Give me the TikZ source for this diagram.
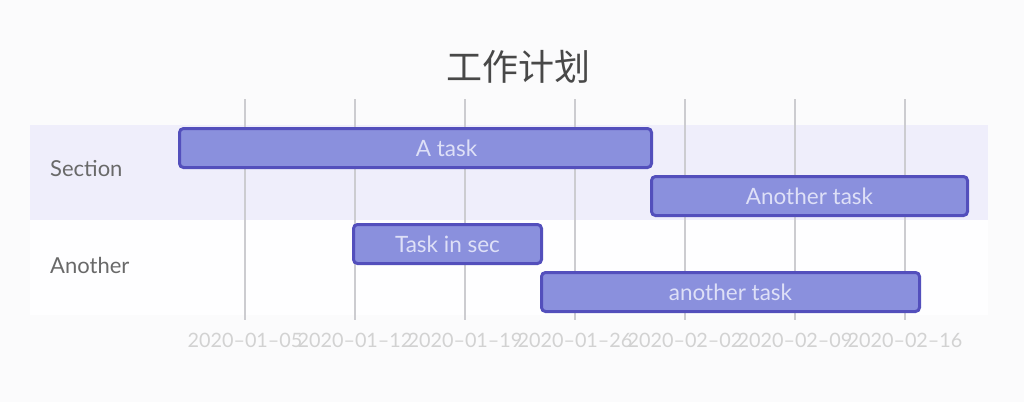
\documentclass[tikz,border=0pt]{standalone}
\usepackage{fontspec}
\setmainfont{Lato}
\newfontfamily\cjkfont{Noto Sans CJK SC}
\usepackage{tikz}
\usetikzlibrary{calc}
\definecolor{pagebg}{RGB}{251,251,252}
\definecolor{sectionbg}{RGB}{239,238,251}
\definecolor{altbg}{RGB}{254,254,255}
\definecolor{taskfill}{RGB}{138,144,221}
\definecolor{taskborder}{RGB}{83,79,188}
\definecolor{tasktext}{RGB}{222,224,247}
\definecolor{gridgray}{RGB}{204,204,208}
\definecolor{ticktext}{RGB}{210,210,210}
\definecolor{labeltext}{RGB}{105,105,105}
\definecolor{titletext}{RGB}{72,72,72}

\begin{document}
\begin{tikzpicture}[x=1pt,y=-1pt,
  task/.style={draw=taskborder,fill=taskfill,line width=3pt,rounded corners=4pt,minimum height=39pt,inner sep=0pt},
  tasklabel/.style={text=tasktext,inner sep=0pt,font=\fontsize{22.5}{26}\selectfont},
  seclabel/.style={anchor=west,inner sep=0pt,text=labeltext,font=\fontsize{22}{26}\selectfont},
  ticklabel/.style={inner sep=0pt,text=ticktext,font=\fontsize{19.8}{23}\selectfont}]
\useasboundingbox (0,0) rectangle (1024,402);
\fill[pagebg] (0,0) rectangle (1024,402);
% section bands
\fill[sectionbg] (30,125) rectangle (988,220);
\fill[altbg] (30,220) rectangle (988,315);
% grid and dates
\foreach \d [count=\i from 0] in {01--05,01--12,01--19,01--26,02--02,02--09,02--16}
{
\draw[gridgray,line width=2pt] (245+110*\i,99) -- (245+110*\i,320);
\node[ticklabel] (date\i) at (245+110*\i,340) {2020--\d};
}
% sections
\node[seclabel] (secA) at (50,169) {Section};
\node[seclabel] (secB) at (50,265) {Another};
% tasks
\node[task,minimum width=472pt] (taskA) at (415.5,148) {};
\node[tasklabel] (taskAtext) at ($(taskA.center)+(31,0)$) {A task};
\node[task,minimum width=316pt,tasklabel] (taskB) at (809.5,196) {Another task};
\node[task,minimum width=188pt,tasklabel] (taskC) at (447.5,244) {Task in sec};
\node[task,minimum width=378pt,tasklabel] (taskD) at (730.5,292) {another task};
% title
\node[text=titletext,font=\cjkfont\fontsize{36}{40}\selectfont] (title) at (518,67) {工作计划};
\end{tikzpicture}
\end{document}
